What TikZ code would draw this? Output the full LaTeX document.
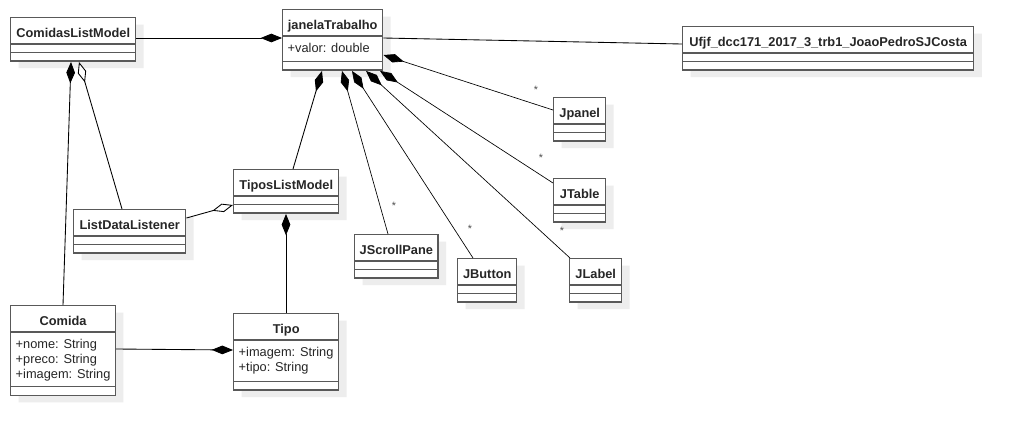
\documentclass[tikz,border=0pt]{standalone}
\usepackage{fontspec}
\setmainfont{Liberation Sans}
\usetikzlibrary{shapes.multipart,shadows,arrows.meta,calc}
\newcommand{\ttl}[1]{\rule[-4.5pt]{0pt}{18.75pt}\textbf{#1}}
\begin{document}
\begin{tikzpicture}[x=0.75pt,y=-0.75pt,
cls/.style={%
rectangle split,
rectangle split parts=3,
rectangle split part align={center,left,left},
rectangle split empty part height=5.25pt,
rectangle split empty part depth=0pt,
anchor=north west,
align=left,
draw=black!65,
line width=1.1pt,
fill=white,
inner xsep=3.75pt,
inner ysep=0pt,
font=\fontsize{9.6}{10.9}\selectfont,
text=black!85,
general shadow={fill=black!7,shadow xshift=6pt,shadow yshift=-5.25pt},
},
link/.style={%
draw=black,
line width=0.65pt,
},
wire/.style={%
draw=black,
line width=0.5pt,
},
mult/.style={%
font=\fontsize{8}{9}\selectfont,
text=black!70,
inner sep=0pt,
},
cdiam/.tip={Diamond[length=16pt,width=6.5pt]},
odiam/.tip={Diamond[open,fill=white,length=16pt,width=6.5pt]},
]
\useasboundingbox (0,0) rectangle (1012,433);
\path[fill=white] (0,0) rectangle (1012,433);
%% Classes
\node[cls,minimum width=93.75pt] (cml) at (10,17) {\ttl{ComidasListModel}};
\node[cls,minimum width=75pt] (jan) at (282,9) {\ttl{janelaTrabalho}\nodepart{second}\rule[-6pt]{0pt}{18pt}+valor: double};
\node[cls,minimum width=218.25pt] (ufjf) at (682,26) {\ttl{Ufjf\_dcc171\_2017\_3\_trb1\_JoaoPedroSJCosta}};
\node[cls,minimum width=39pt] (jpanel) at (553,97) {\ttl{Jpanel}};
\node[cls,minimum width=39pt] (jtable) at (553,178) {\ttl{JTable}};
\node[cls,minimum width=62.25pt] (jscroll) at (354,234) {\ttl{JScrollPane}};
\node[cls,minimum width=44.25pt] (jbutton) at (457,258) {\ttl{JButton}};
\node[cls,minimum width=39pt] (jlabel) at (569,258) {\ttl{JLabel}};
\node[cls,minimum width=78.75pt] (tlm) at (233,169) {\ttl{TiposListModel}};
\node[cls,minimum width=84pt] (ldl) at (73,209) {\ttl{ListDataListener}};
\node[cls,minimum width=78pt] (comida) at (10,305) {\ttl{Comida}\nodepart{second}\rule{0pt}{12pt}+nome: String\\+preco: String\\+imagem: String\rule[-6pt]{0pt}{6pt}};
\node[cls,minimum width=78.75pt] (tipo) at (233,313) {\ttl{Tipo}\nodepart{second}\rule{0pt}{12pt}+imagem: String\\+tipo: String\rule[-7pt]{0pt}{7pt}};
%% janelaTrabalho links
\draw[link,-cdiam] ($(cml.north east)+(0,21)$) -- ($(jan.north west)+(0,29)$);
\draw[link] ($(jan.north east)+(0,29)$) -- ($(ufjf.north west)+(0,18)$);
\draw[wire,cdiam-] ($(jan.north east)+(0,46)$) -- ($(jpanel.north west)+(0,13)$);
\draw[wire,cdiam-] ($(jan.south west)+(98,0)$) -- ($(jtable.north west)+(0,5)$);
\draw[wire,cdiam-] ($(jan.south west)+(84,0)$) -- ($(jlabel.north west)+(1,0)$);
\draw[wire,cdiam-] ($(jan.south west)+(70,0)$) -- ($(jbutton.north west)+(16,0)$);
\draw[wire,cdiam-] ($(jan.south west)+(60,0)$) -- ($(jscroll.north west)+(34,0)$);
\draw[link,cdiam-] ($(jan.south west)+(40,0)$) -- ($(tlm.north west)+(60,0)$);
%% Multiplicities
\node[mult] (mpanel) at (536,90) {*};
\node[mult] (mtable) at (541,158) {*};
\node[mult] (mlabel) at (562,231) {*};
\node[mult] (mbutton) at (470,229) {*};
\node[mult] (mscroll) at (394,206) {*};
%% Models
\draw[link,cdiam-] ($(cml.south west)+(61,0)$) -- ($(comida.north west)+(53,0)$);
\draw[link,odiam-] ($(cml.south west)+(69,0)$) -- ($(ldl.north west)+(49,0)$);
\draw[link,-odiam] ($(ldl.north east)+(0,9)$) -- ($(tlm.north west)+(0,36)$);
\draw[link,cdiam-] ($(tlm.south west)+(53,0)$) -- ($(tipo.north west)+(53,0)$);
\draw[link,-cdiam] ($(comida.north east)+(0,44)$) -- ($(tipo.north west)+(0,37)$);
\end{tikzpicture}
\end{document}
